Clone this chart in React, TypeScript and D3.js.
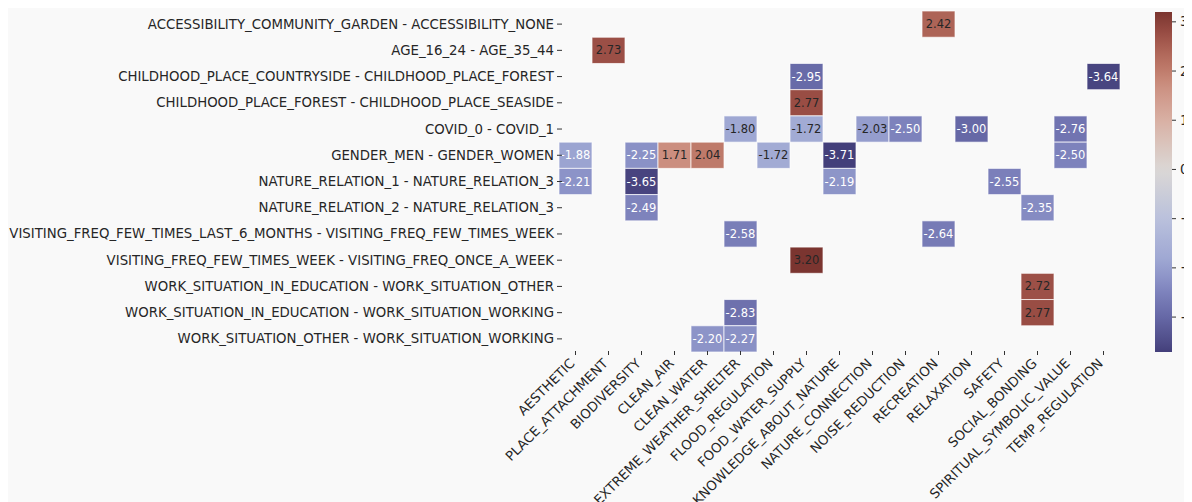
import React from "react";
import * as d3 from "d3";

// rows of the heatmap (pairs of categories)
const rowLabels = [
  "ACCESSIBILITY_COMMUNITY_GARDEN - ACCESSIBILITY_NONE",
  "AGE_16_24 - AGE_35_44",
  "CHILDHOOD_PLACE_COUNTRYSIDE - CHILDHOOD_PLACE_FOREST",
  "CHILDHOOD_PLACE_FOREST - CHILDHOOD_PLACE_SEASIDE",
  "COVID_0 - COVID_1",
  "GENDER_MEN - GENDER_WOMEN",
  "NATURE_RELATION_1 - NATURE_RELATION_3",
  "NATURE_RELATION_2 - NATURE_RELATION_3",
  "VISITING_FREQ_FEW_TIMES_LAST_6_MONTHS - VISITING_FREQ_FEW_TIMES_WEEK",
  "VISITING_FREQ_FEW_TIMES_WEEK - VISITING_FREQ_ONCE_A_WEEK",
  "WORK_SITUATION_IN_EDUCATION - WORK_SITUATION_OTHER",
  "WORK_SITUATION_IN_EDUCATION - WORK_SITUATION_WORKING",
  "WORK_SITUATION_OTHER - WORK_SITUATION_WORKING",
];

const colLabels = [
  "AESTHETIC",
  "PLACE_ATTACHMENT",
  "BIODIVERSITY",
  "CLEAN_AIR",
  "CLEAN_WATER",
  "EXTREME_WEATHER_SHELTER",
  "FLOOD_REGULATION",
  "FOOD_WATER_SUPPLY",
  "KNOWLEDGE_ABOUT_NATURE",
  "NATURE_CONNECTION",
  "NOISE_REDUCTION",
  "RECREATION",
  "RELAXATION",
  "SAFETY",
  "SOCIAL_BONDING",
  "SPIRITUAL_SYMBOLIC_VALUE",
  "TEMP_REGULATION",
];

// non-empty cells, one list per row: [column, value]
const rowValues: [string, number][][] = [
  [["RECREATION", 2.42]],
  [["PLACE_ATTACHMENT", 2.73]],
  [["FOOD_WATER_SUPPLY", -2.95], ["TEMP_REGULATION", -3.64]],
  [["FOOD_WATER_SUPPLY", 2.77]],
  [
    ["EXTREME_WEATHER_SHELTER", -1.8],
    ["FOOD_WATER_SUPPLY", -1.72],
    ["NATURE_CONNECTION", -2.03],
    ["NOISE_REDUCTION", -2.5],
    ["RELAXATION", -3.0],
    ["SPIRITUAL_SYMBOLIC_VALUE", -2.76],
  ],
  [
    ["AESTHETIC", -1.88],
    ["BIODIVERSITY", -2.25],
    ["CLEAN_AIR", 1.71],
    ["CLEAN_WATER", 2.04],
    ["FLOOD_REGULATION", -1.72],
    ["KNOWLEDGE_ABOUT_NATURE", -3.71],
    ["SPIRITUAL_SYMBOLIC_VALUE", -2.5],
  ],
  [
    ["AESTHETIC", -2.21],
    ["BIODIVERSITY", -3.65],
    ["KNOWLEDGE_ABOUT_NATURE", -2.19],
    ["SAFETY", -2.55],
  ],
  [["BIODIVERSITY", -2.49], ["SOCIAL_BONDING", -2.35]],
  [["EXTREME_WEATHER_SHELTER", -2.58], ["RECREATION", -2.64]],
  [["FOOD_WATER_SUPPLY", 3.2]],
  [["SOCIAL_BONDING", 2.72]],
  [["EXTREME_WEATHER_SHELTER", -2.83], ["SOCIAL_BONDING", 2.77]],
  [["CLEAN_WATER", -2.2], ["EXTREME_WEATHER_SHELTER", -2.27]],
];

const colorbarTicks = [3, 2, 1, 0, -1, -2, -3];

const W = 1184;
const H = 494;
const font = "DejaVu Sans, Verdana, sans-serif";
const labelSize = 13.3;

function App() {
  const cells = rowValues.flatMap((r, i) =>
    r.map(([col, v]) => ({ row: rowLabels[i], col, v }))
  );
  const vmin = d3.min(cells, (d) => d.v) as number;
  const vmax = d3.max(cells, (d) => d.v) as number;

  const x = d3.scaleBand().domain(colLabels).range([551, 1112]).padding(0);
  const y = d3.scaleBand().domain(rowLabels).range([3, 344]).padding(0);

  const color = d3
    .scaleLinear<string>()
    .domain([-3.71, -3.65, -3.0, -2.5, -2.2, -1.8, -1, 0, 1, 1.7, 2.0, 2.42, 2.75, 3.2])
    .range([
      "#433f7a", "#48447f", "#6668a6", "#7d82bc", "#8d94c8", "#9fa8d3", "#bac1dc",
      "#dbd8d5", "#d9b0a4", "#cb8f80", "#c07c6c", "#ad6457", "#9a4e45", "#7b3530",
    ])
    .clamp(true);

  const cbX = 1147;
  const cbW = 17;
  const cb = d3.scaleLinear().domain([vmin, vmax]).range([344, 4]);
  const gradStops = d3.range(0, 41).map((i) => vmin + ((vmax - vmin) * i) / 40);

  // dark text on lighter cells
  const darkText = (v: number) => v > 0 || (v > -2.1 && v !== -1.88);

  return (
    <svg width={W} height={H} style={{ display: "block", background: "#f9f9f9" }}>
      <defs>
        <linearGradient id="cbar" x1="0" y1="1" x2="0" y2="0">
          {gradStops.map((v, i) => (
            <stop key={i} offset={`${(i / 40) * 100}%`} stopColor={color(v)} />
          ))}
        </linearGradient>
      </defs>

      {/* cells */}
      {cells.map((d, i) => (
        <g key={i}>
          <rect
            x={x(d.col)}
            y={y(d.row)}
            width={x.bandwidth()}
            height={y.bandwidth()}
            fill={color(d.v)}
            stroke="#ffffff"
            strokeOpacity={0.7}
            strokeWidth={1}
          />
          <text
            x={(x(d.col) as number) + x.bandwidth() / 2}
            y={(y(d.row) as number) + y.bandwidth() / 2}
            textAnchor="middle"
            dominantBaseline="central"
            fontFamily={font}
            fontSize={11.5}
            fill={darkText(d.v) ? "#262626" : "#ffffff"}
          >
            {d.v.toFixed(2)}
          </text>
        </g>
      ))}

      {/* y axis */}
      {rowLabels.map((r) => {
        const cy = (y(r) as number) + y.bandwidth() / 2;
        return (
          <g key={r}>
            <line x1={549} x2={554} y1={cy} y2={cy} stroke="#333" strokeWidth={1} />
            <text
              x={546}
              y={cy}
              textAnchor="end"
              dominantBaseline="central"
              fontFamily={font}
              fontSize={labelSize}
              fill="#262626"
            >
              {r}
            </text>
          </g>
        );
      })}

      {/* x axis */}
      {colLabels.map((c) => {
        const cx = (x(c) as number) + x.bandwidth() / 2;
        return (
          <g key={c}>
            <line x1={cx} x2={cx} y1={343} y2={347} stroke="#333" strokeWidth={1} />
            <text
              transform={`translate(${cx - 3},${353}) rotate(-45)`}
              textAnchor="end"
              dominantBaseline="central"
              fontFamily={font}
              fontSize={labelSize}
              fill="#262626"
            >
              {c}
            </text>
          </g>
        );
      })}

      {/* colorbar */}
      <rect x={cbX} y={cb(vmax)} width={cbW} height={cb(vmin) - cb(vmax)} fill="url(#cbar)" />
      {colorbarTicks.map((t) => (
        <g key={t}>
          <line x1={cbX + cbW} x2={cbX + cbW + 4} y1={cb(t)} y2={cb(t)} stroke="#333" />
          <text
            x={cbX + cbW + 8}
            y={cb(t)}
            dominantBaseline="central"
            fontFamily={font}
            fontSize={labelSize}
            fill="#262626"
          >
            {t < 0 ? `\u2212${Math.abs(t)}` : t}
          </text>
        </g>
      ))}
    </svg>
  );
}

export default App;
